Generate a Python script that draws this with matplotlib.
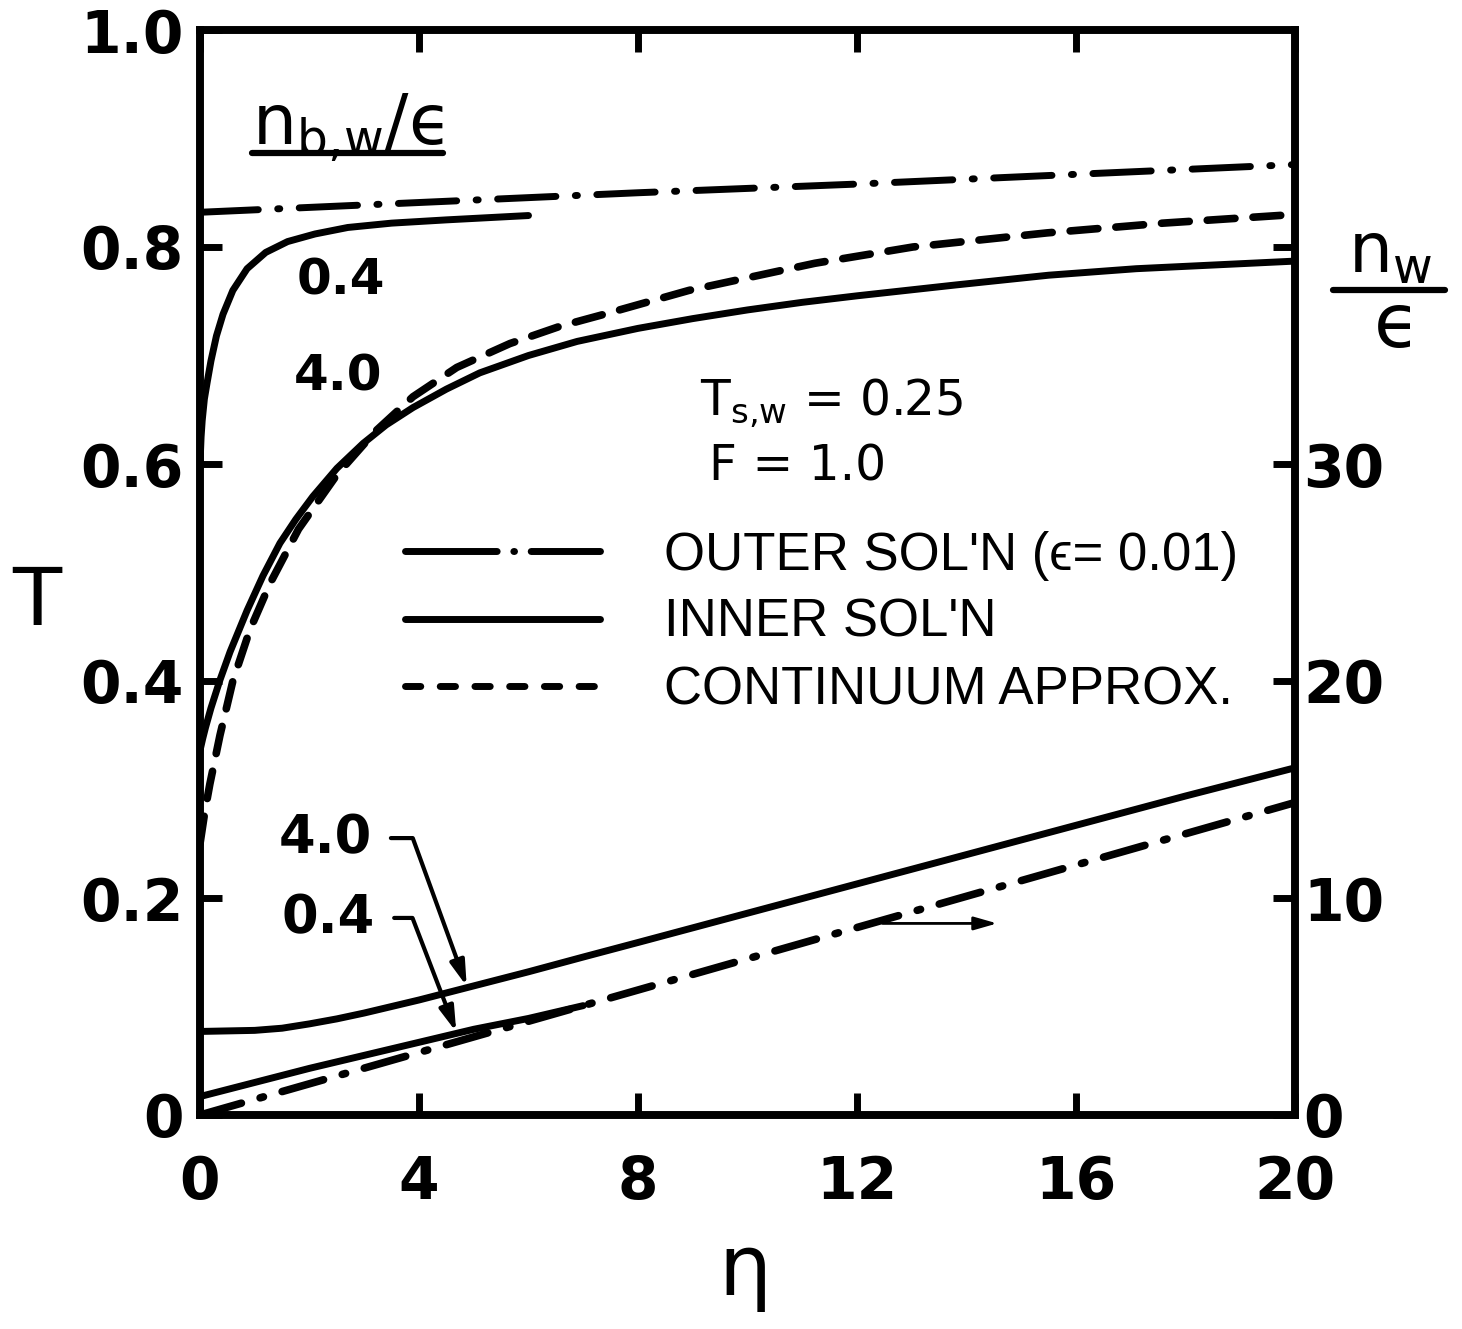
import numpy as np
import matplotlib
matplotlib.use('Agg')
from matplotlib import pyplot as plt
from matplotlib.lines import Line2D

plt.rcParams['font.family'] = ['DejaVu Sans']
plt.rcParams['mathtext.fontset'] = 'dejavusans'
plt.rcParams['lines.scale_dashes'] = False

# upper curves, T on left axis
eta_outer = [0, 4, 8, 12, 16, 20]
T_outer = [0.832, 0.841, 0.850, 0.858, 0.867, 0.876]

eta_in04 = [0, 0.02, 0.04, 0.08, 0.13, 0.2, 0.3, 0.42, 0.6, 0.86, 1.2, 1.6, 2.1, 2.7, 3.5, 4.5, 6.0]
T_in04 = [0.60, 0.625, 0.64, 0.66, 0.675, 0.695, 0.718, 0.738, 0.760, 0.780, 0.795, 0.805, 0.812, 0.818, 0.822, 0.825, 0.829]

eta_in40 = [0, 0.05, 0.1, 0.2, 0.365, 0.55, 0.86, 1.15, 1.46, 1.75, 2.06, 2.5, 2.98, 3.4, 3.89,
            4.5, 5.11, 6.0, 6.89, 8, 9, 10, 11, 12, 13.8, 15.5, 17.1, 20]
T_in40 = [0.336, 0.347, 0.357, 0.375, 0.401, 0.427, 0.465, 0.497, 0.527, 0.549, 0.570, 0.596, 0.619, 0.636, 0.652,
          0.669, 0.684, 0.700, 0.713, 0.725, 0.734, 0.742, 0.749, 0.755, 0.765, 0.774, 0.780, 0.787]

eta_cont = [0, 0.09, 0.18, 0.365, 0.6, 0.91, 1.28, 1.8, 2.5, 3.2, 3.89, 4.69, 5.66, 6.58, 7.31, 8.93, 11.23, 13.02, 15.47, 17.59, 20]
T_cont = [0.25, 0.28, 0.305, 0.35, 0.40, 0.447, 0.49, 0.54, 0.59, 0.630, 0.662, 0.689, 0.711, 0.727, 0.737, 0.760, 0.785, 0.800, 0.813, 0.822, 0.830]

# lower curves, n_w/eps on right axis
eta_lo40 = [0, 1, 1.5, 2, 2.5, 3, 4, 5, 6, 7, 8, 10, 12, 14, 16, 18, 20]
nw_lo40 = [3.85, 3.9, 4.0, 4.2, 4.43, 4.7, 5.3, 5.95, 6.6, 7.28, 7.95, 9.3, 10.65, 12.0, 13.35, 14.7, 16.0]
eta_lo04 = [0, 1, 2, 3, 4, 5, 6, 7]
nw_lo04 = [0.85, 1.5, 2.15, 2.75, 3.35, 3.95, 4.45, 5.04]
eta_outer_lo = [0, 4, 8, 12, 16, 20]
nw_outer_lo = [0, 2.88, 5.76, 8.64, 11.52, 14.4]

x_ticks = [0, 4, 8, 12, 16, 20]
x_labels = ['0', '4', '8', '12', '16', '20']
y_ticks = [0, 0.2, 0.4, 0.6, 0.8, 1.0]
y_labels = ['0', '0.2', '0.4', '0.6', '0.8', '1.0']
y2_ticks = [0, 10, 20, 30, 40]
y2_labels = ['0', '10', '20', '30', '']

W, H = 1462, 1329
def fpos(x, y):
    return x / W, 1 - y / H

fig = plt.figure(figsize=(14.62, 13.29), dpi=100)
ax = fig.add_axes([200 / W, 1 - 1115 / H, 1095 / W, 1085 / H])
ax2 = ax.twinx()

lw = 5
ax.plot(eta_outer, T_outer, color='k', lw=lw, dashes=(42, 14, 1.5, 14), dash_capstyle='round')
ax.plot(eta_in04, T_in04, color='k', lw=lw, solid_capstyle='round')
ax.plot(eta_in40, T_in40, color='k', lw=lw, solid_capstyle='round')
ax.plot(eta_cont, T_cont, color='k', lw=lw + 0.5, dashes=(20, 13), dash_capstyle='round')

ax2.plot(eta_lo40, nw_lo40, color='k', lw=lw, solid_capstyle='round')
ax2.plot(eta_lo04, nw_lo04, color='k', lw=lw, solid_capstyle='round')
ax2.plot(eta_outer_lo, nw_outer_lo, color='k', lw=lw + 0.5, dashes=(31, 14, 2.5, 14), dash_capstyle='round')

ax.set_xlim(0, 20)
ax.set_ylim(0, 1)
ax2.set_ylim(0, 50)

ax.set_xticks(x_ticks)
ax.set_xticklabels(x_labels)
ax.set_yticks(y_ticks)
ax.set_yticklabels(y_labels)
ax2.set_yticks(y2_ticks)
ax2.set_yticklabels(y2_labels)

ax.tick_params(axis='both', direction='in', length=16, width=5, labelsize=42, top=True, right=False)
ax.tick_params(axis='x', pad=28)
ax.tick_params(axis='y', pad=12)
ax2.tick_params(axis='y', direction='in', length=16, width=5, labelsize=42, pad=6)
for lab in ax.get_xticklabels() + ax.get_yticklabels() + ax2.get_yticklabels():
    lab.set_fontweight('bold')
for a in (ax, ax2):
    for s in a.spines.values():
        s.set_linewidth(5.5)

ax.set_ylabel('T', rotation=0, fontsize=58, ha='center', va='baseline')
ax.yaxis.set_label_coords(-0.149, 0.4516)
ax.set_xlabel('η', fontsize=60, ha='center', va='baseline')
ax.xaxis.set_label_coords(0.498, -0.166)

# curve labels
ax.text(2.58, 0.756, '0.4', ha='center', va='baseline', fontsize=36, fontweight='bold')
ax.text(2.53, 0.668, '4.0', ha='center', va='baseline', fontsize=36, fontweight='bold')
ax.text(9.13, 0.645, 'T$_\\mathregular{s{,}w}$ = 0.25', fontsize=35, va='baseline')
ax.text(9.3, 0.585, 'F = 1.0', fontsize=35, va='baseline')

# leaders to the lower curves
arrow_kw = dict(arrowstyle='-|>,head_length=0.75,head_width=0.22', color='k', lw=3,
                shrinkA=12, shrinkB=1, mutation_scale=20)
tip40 = 4.88
ax2.annotate('4.0', xy=(tip40, np.interp(tip40, eta_lo40, nw_lo40)), xytext=(2.28, 12.07),
             ha='center', va='baseline', fontsize=38, fontweight='bold',
             arrowprops=dict(connectionstyle='angle,angleA=0,angleB=110', **arrow_kw))
tip04 = 4.69
ax2.annotate('0.4', xy=(tip04, np.interp(tip04, eta_lo04, nw_lo04)), xytext=(2.34, 8.39),
             ha='center', va='baseline', fontsize=38, fontweight='bold',
             arrowprops=dict(connectionstyle='angle,angleA=0,angleB=111', **arrow_kw))
a0, a1 = 12.47, 14.56
ya = np.interp(a0, eta_outer_lo, nw_outer_lo) - 0.15
ax2.annotate('', xy=(a1, ya), xytext=(a0, ya),
             arrowprops=dict(arrowstyle='-|>,head_length=0.7,head_width=0.2', color='k', lw=2,
                             shrinkA=0, shrinkB=0, mutation_scale=20))

# legend
handles = [Line2D([], [], color='k', lw=5, dashes=(66, 12, 0.5, 12), dash_capstyle='round'),
           Line2D([], [], color='k', lw=5, solid_capstyle='round'),
           Line2D([], [], color='k', lw=5, dashes=(11, 14), dash_capstyle='round')]
labels = ["OUTER SOL'N (ϵ= 0.01)", "INNER SOL'N", "CONTINUUM APPROX."]
ax.legend(handles, labels, loc='center left', bbox_to_anchor=fpos(405, 623),
          bbox_transform=fig.transFigure, frameon=False, handlelength=3.7,
          handletextpad=1.2, labelspacing=0.33, borderpad=0, borderaxespad=0,
          prop=dict(family=['Liberation Sans', 'DejaVu Sans'], size=38))

# parameter heading, underlined
fig.text(*fpos(252, 145), 'n$_\\mathregular{b{,}w}$/ϵ', fontsize=50, ha='left', va='baseline')
fig.add_artist(Line2D([252 / W, 443 / W], [1 - 153 / H, 1 - 153 / H], color='k', lw=4.5,
                      solid_capstyle='round'))

# right axis label as a fraction
fig.text(*fpos(1390, 273), 'n$_\\mathregular{w}$', fontsize=50, ha='center', va='baseline')
fig.add_artist(Line2D([1333 / W, 1445 / W], [1 - 290 / H, 1 - 290 / H], color='k', lw=4.5,
                      solid_capstyle='round'))
fig.text(*fpos(1397, 347), 'ϵ', fontsize=54, ha='center', va='baseline')

plt.savefig('out.png', dpi=100)
